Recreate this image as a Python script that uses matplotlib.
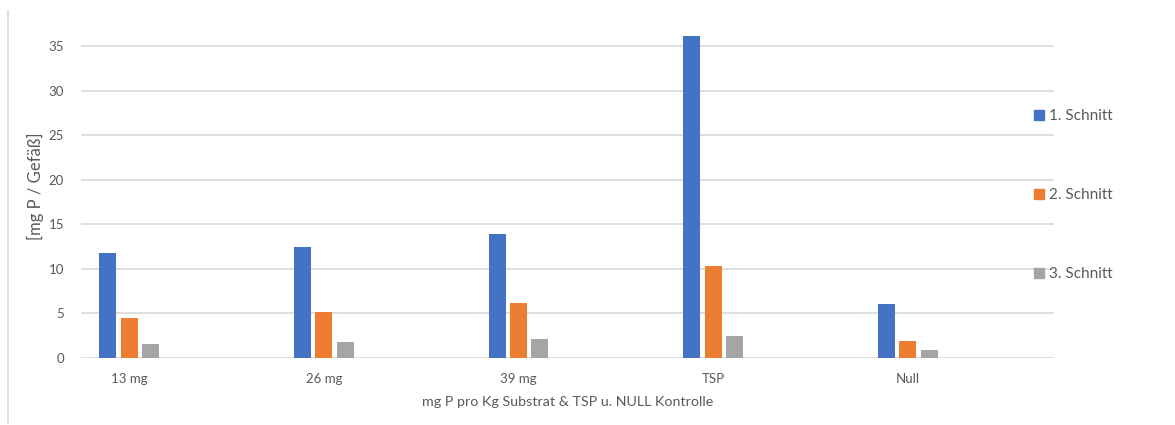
import matplotlib.pyplot as plt
from matplotlib.lines import Line2D
import numpy as np

plt.rcParams['font.family'] = ['Lato', 'DejaVu Sans']

categories = ["13 mg", "26 mg", "39 mg", "TSP", "Null"]
schnitt_1 = [11.8, 12.4, 13.9, 36.1, 6.1]
schnitt_2 = [4.5, 5.2, 6.2, 10.3, 1.9]
schnitt_3 = [1.6, 1.8, 2.1, 2.5, 0.9]
series_names = ["1. Schnitt", "2. Schnitt", "3. Schnitt"]
series_colors = ["#4472C4", "#ED7D31", "#A5A5A5"]
yticks = [0, 5, 10, 15, 20, 25, 30, 35]

text_color = "#595959"
grid_color = "#D9D9D9"

fig = plt.figure(figsize=(11.75, 4.25), dpi=100)
ax = fig.add_axes([0.0687, 0.1576, 0.8283, 0.776])

x = np.arange(len(categories))
width = 0.087
offsets = [0.139, 0.249, 0.359]

bars = []
for vals, off, col, name in zip([schnitt_1, schnitt_2, schnitt_3], offsets,
                                series_colors, series_names):
    b = ax.bar(x + off, vals, width, color=col, label=name, zorder=3)
    bars.append(b)

ax.set_xlim(0, len(categories))
ax.set_ylim(0, 37)
ax.set_yticks(yticks)
ax.set_xticks(x + offsets[1])
ax.set_xticklabels(categories)

# horizontal grid only up to 35
for t in yticks:
    ax.axhline(t, color=grid_color, lw=1.2, zorder=1)

for s in ax.spines.values():
    s.set_visible(False)
ax.tick_params(axis="both", length=0, colors=text_color, labelsize=9.5)
ax.tick_params(axis="y", pad=12)
ax.tick_params(axis="x", pad=11)

ax.set_xlabel("mg P pro Kg Substrat & TSP u. NULL Kontrolle",
              color=text_color, fontsize=10.3, labelpad=8)
ax.set_ylabel("[mg P / Gefäß]", color=text_color, fontsize=12, labelpad=1)
ax.yaxis.set_label_coords(-0.038, 0.52)

handles = [Line2D([], [], marker="s", linestyle="none", markersize=7,
                  color=c) for c in series_colors]
leg = fig.legend(handles, series_names, loc="center left",
                 bbox_to_anchor=(0.869, 0.541), frameon=False,
                 fontsize=11, labelspacing=4.25, handlelength=0.6,
                 handletextpad=0.3, labelcolor=text_color)

# chart frame edge on the left
fig.add_artist(Line2D([0.0068, 0.0068], [0.005, 0.975], color=grid_color,
                      lw=1.2, transform=fig.transFigure))

fig.savefig("out.png", dpi=100)
